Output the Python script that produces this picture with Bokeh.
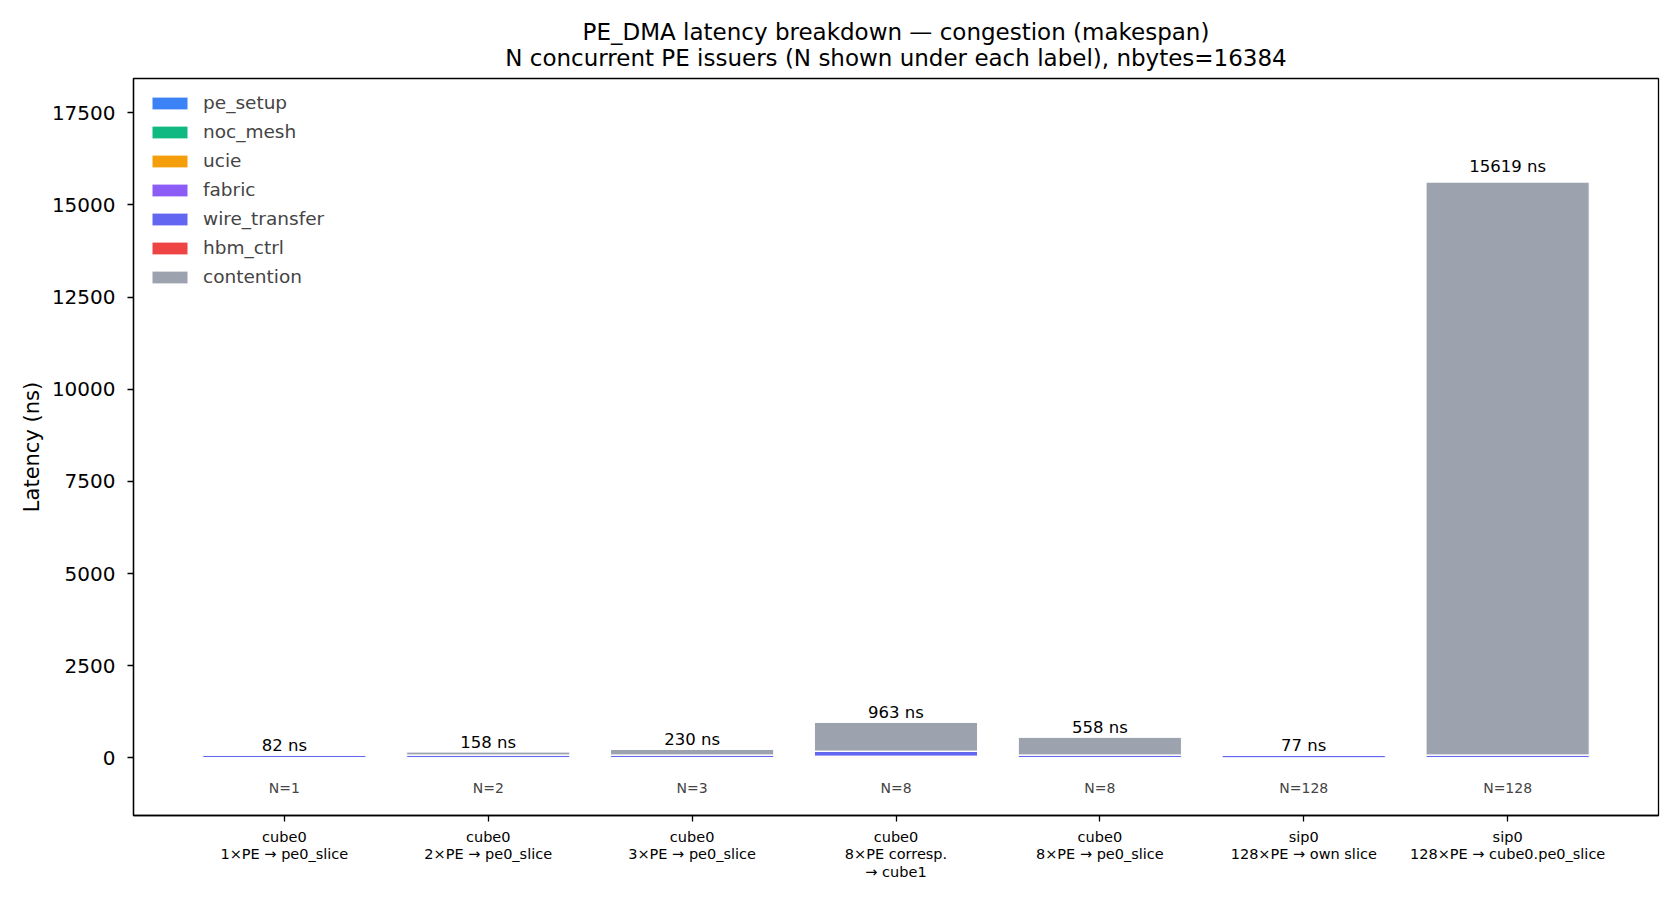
from bokeh.plotting import figure
from bokeh.models import ColumnDataSource, FixedTicker, Title, Range1d
from bokeh.core.properties import value
from bokeh.embed import file_html
from bokeh.resources import INLINE

labels = [
    "cube0\n1×PE → pe0_slice",
    "cube0\n2×PE → pe0_slice",
    "cube0\n3×PE → pe0_slice",
    "cube0\n8×PE corresp.\n→ cube1",
    "cube0\n8×PE → pe0_slice",
    "sip0\n128×PE → own slice",
    "sip0\n128×PE → cube0.pe0_slice",
]
n_issuers = [1, 2, 3, 8, 8, 128, 128]

pe_setup = [2, 2, 2, 2, 2, 2, 2]
noc_mesh = [8, 8, 8, 8, 8, 3, 8]
ucie = [0, 0, 0, 40, 0, 0, 0]
fabric = [0, 0, 0, 0, 0, 0, 0]
wire_transfer = [64, 64, 64, 128, 64, 64, 64]
hbm_ctrl = [8, 8, 8, 8, 8, 8, 8]
contention = [0, 76, 148, 777, 476, 0, 15537]

components = ["pe_setup", "noc_mesh", "ucie", "fabric", "wire_transfer", "hbm_ctrl", "contention"]
colors = ["#3b82f6", "#10b981", "#f59e0b", "#8b5cf6", "#6366f1", "#ef4444", "#9ca3af"]
y_ticks = [0, 2500, 5000, 7500, 10000, 12500, 15000, 17500]

title_main = "PE_DMA latency breakdown — congestion (makespan)"
title_sub = "N concurrent PE issuers (N shown under each label), nbytes=16384"

FONT = "DejaVu Sans"

xs = list(range(len(labels)))
series = [pe_setup, noc_mesh, ucie, fabric, wire_transfer, hbm_ctrl, contention]
totals = [sum(v[i] for v in series) for i in xs]
ymax = max(totals)

data = {"x": xs}
for name, vals in zip(components, series):
    data[name] = vals
source = ColumnDataSource(data)

p = figure(
    width=1664, height=884,
    output_backend="svg", toolbar_location=None,
    x_range=Range1d(-0.74, len(labels) - 1 + 0.74),
    y_range=Range1d(-0.1 * ymax, 1.18 * ymax),
    min_border_left=133, min_border_right=6, min_border_top=78, min_border_bottom=69,
)
p.title = None
p.add_layout(Title(text=title_sub, align="center", text_font=FONT,
                   text_font_size="23px", text_font_style="normal",
                   text_color="black", standoff=16), "above")
p.add_layout(Title(text=title_main, align="center", text_font=FONT,
                   text_font_size="23px", text_font_style="normal",
                   text_color="black", standoff=-20.6), "above")

p.vbar_stack(
    components, x="x", width=0.8, source=source, color=colors,
    line_color="white", line_width=1, legend_label=components,
)

# total labels
lab_src = ColumnDataSource(dict(
    x=xs,
    y=[t * 1.01 + 260 for t in totals],
    text=[f"{t} ns" for t in totals],
))
p.text(x="x", y="y", text="text", source=lab_src, text_align="center",
       text_baseline="alphabetic", text_font=value(FONT), text_font_size="16.5px",
       text_color="black")

n_src = ColumnDataSource(dict(
    x=xs,
    y=[-0.052 * ymax] * len(xs),
    text=[f"N={n}" for n in n_issuers],
))
p.text(x="x", y="y", text="text", source=n_src, text_align="center",
       text_baseline="middle", text_font=value(FONT), text_font_size="14px",
       text_color="#444444")

# axes
p.xaxis.ticker = FixedTicker(ticks=xs)
p.xaxis.major_label_overrides = {i: lab for i, lab in enumerate(labels)}
p.xaxis.major_label_text_font = FONT
p.xaxis.major_label_text_font_size = "14.5px"
p.xaxis.major_label_text_color = "black"
p.xaxis.major_label_text_line_height = 1.1
p.xaxis.major_label_standoff = 7
p.xaxis.minor_tick_line_color = None

p.yaxis.ticker = FixedTicker(ticks=y_ticks)
p.yaxis.major_label_text_font = FONT
p.yaxis.major_label_text_font_size = "20px"
p.yaxis.major_label_text_color = "black"
p.yaxis.major_label_standoff = 12
p.yaxis.minor_tick_line_color = None
p.yaxis.axis_label = "Latency (ns)"
p.yaxis.axis_label_text_font = FONT
p.yaxis.axis_label_text_font_size = "21px"
p.yaxis.axis_label_text_font_style = "normal"
p.yaxis.axis_label_text_color = "black"
p.yaxis.axis_label_standoff = 5

for ax in (p.xaxis, p.yaxis):
    ax.major_tick_out = 6
    ax.major_tick_in = 0
    ax.major_tick_line_color = "black"
    ax.major_tick_line_width = 1.3
    ax.axis_line_color = "black"
    ax.axis_line_width = 1.3

p.outline_line_color = "black"
p.outline_line_width = 1.3
p.xgrid.grid_line_color = None
p.ygrid.grid_line_color = None
p.background_fill_color = "white"

lg = p.legend[0]
lg.location = "top_left"
lg.border_line_alpha = 0
lg.background_fill_alpha = 0
lg.label_text_font = FONT
lg.label_text_font_size = "18.5px"
lg.glyph_width = 45
lg.glyph_height = 16
lg.label_standoff = 11
lg.spacing = 8
lg.margin = 2
lg.padding = 12

open("out.html", "w").write(file_html(p, INLINE))
